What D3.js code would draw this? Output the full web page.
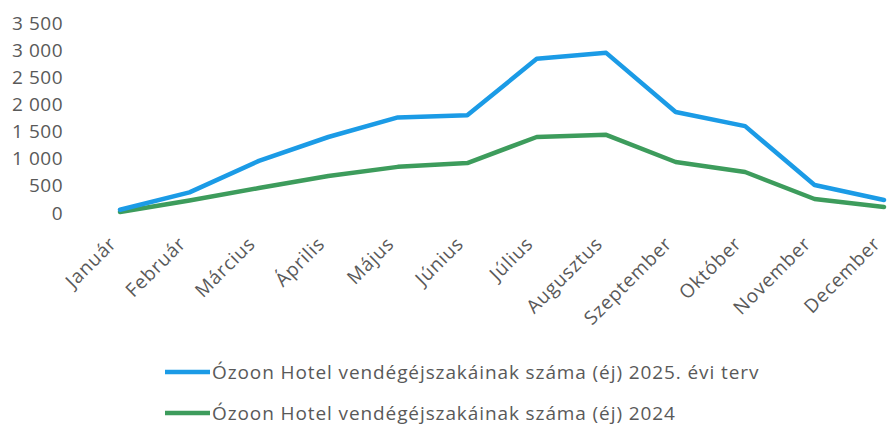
<!DOCTYPE html>
<html>
<head>
<meta charset="utf-8">
<script src="https://cdn.jsdelivr.net/npm/d3@7"></script>
<style>
  body { margin: 0; background: #fff; }
  text { font-family: "Open Sans", sans-serif; fill: #595959; }
</style>
</head>
<body>
<script>
var width = 888;
var height = 427;

var months = ["Január", "Február", "Március", "Április", "Május", "Június",
  "Július", "Augusztus", "Szeptember", "Október", "November", "December"];
var plan2025 = [60, 380, 960, 1400, 1760, 1800, 2840, 2950, 1860, 1600, 515, 240];
var actual2024 = [20, 230, 460, 680, 850, 920, 1400, 1440, 940, 755, 258, 110];
var yTicks = [0, 500, 1000, 1500, 2000, 2500, 3000, 3500];
var seriesNames = [
  "Ózoon Hotel vendégéjszakáinak száma (éj) 2025. évi terv",
  "Ózoon Hotel vendégéjszakáinak száma (éj) 2024"
];
var colors = ["#1b9be6", "#3d9c5c"];

var series = [plan2025, actual2024];

var svg = d3.select("body")
  .append("svg")
  .attr("width", width)
  .attr("height", height);

// scales
var xScale = d3.scalePoint()
  .domain(months)
  .range([120, 884]);

var yScale = d3.scaleLinear()
  .domain([0, 3500])
  .range([213, 23]);

var fmt = function(d) {
  return d3.format(",")(d).replace(/,/g, " ");
};

// y axis (labels only)
var yAxis = d3.axisLeft(yScale)
  .tickValues(yTicks)
  .tickFormat(fmt)
  .tickSize(0)
  .tickPadding(0);

svg.append("g")
  .attr("class", "y axis")
  .attr("transform", "translate(63,0)")
  .call(yAxis)
  .call(function(g) { g.select(".domain").remove(); })
  .selectAll("text")
  .style("font-size", "19px")
  .style("letter-spacing", "0.5px")
  .attr("fill", "#595959");

// x axis (rotated labels only)
var xAxis = d3.axisBottom(xScale).tickSize(0).tickPadding(0);

svg.append("g")
  .attr("class", "x axis")
  .call(xAxis)
  .call(function(g) { g.select(".domain").remove(); })
  .selectAll("text")
  .style("font-size", "19px")
  .style("letter-spacing", "0.8px")
  .attr("fill", "#595959")
  .attr("text-anchor", "end")
  .attr("dy", null)
  .attr("y", 0)
  .attr("transform", "translate(-3,245) rotate(-45)");

// lines
var line = d3.line()
  .x(function(d, i) { return xScale(months[i]); })
  .y(function(d) { return yScale(d); });

svg.append("g")
  .selectAll("path")
  .data(series.slice().reverse())
  .enter()
  .append("path")
  .attr("d", line)
  .attr("fill", "none")
  .attr("stroke", function(d, i) { return colors[1 - i]; })
  .attr("stroke-width", 4.5)
  .attr("stroke-linejoin", "round")
  .attr("stroke-linecap", "round");

// legend
var legend = svg.append("g")
  .selectAll("g")
  .data(seriesNames)
  .enter()
  .append("g")
  .attr("transform", function(d, i) {
    return "translate(165," + (372 + i * 41) + ")";
  });

legend.append("line")
  .attr("x1", 0)
  .attr("x2", 45)
  .attr("stroke", function(d, i) { return colors[i]; })
  .attr("stroke-width", 4.5);

legend.append("text")
  .attr("x", 47)
  .attr("dy", "0.35em")
  .style("font-size", "19px")
  .style("letter-spacing", "0.9px")
  .text(function(d) { return d; });
</script>
</body>
</html>
